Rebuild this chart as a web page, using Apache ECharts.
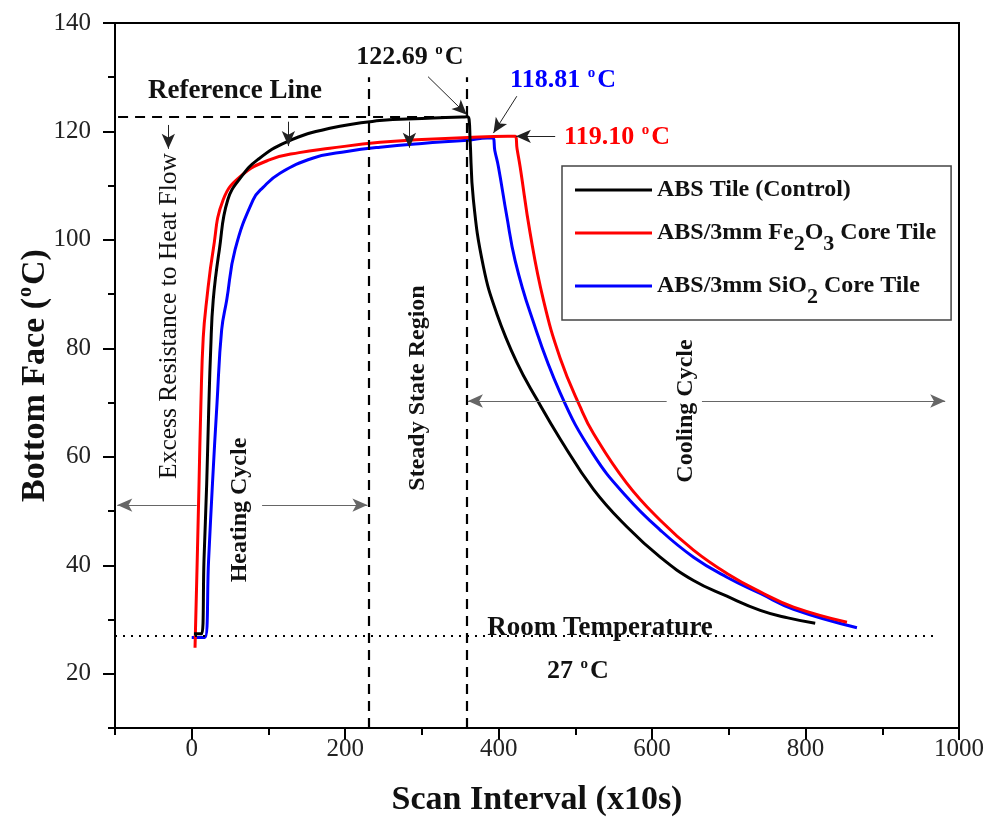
<!DOCTYPE html>
<html>
<head>
<meta charset="utf-8">
<script src="https://cdn.jsdelivr.net/npm/echarts@6/dist/echarts.min.js"></script>
<style>
  html, body { margin: 0; padding: 0; background: #fff; }
  #main { width: 989px; height: 822px; }
</style>
</head>
<body>
<div id="main"></div>
<script>
// curve data: [scan interval (x10s), temperature (C)]
var absTile = [
  [3,27.4],[13,27.4],[16,41],[19.5,55],[22,68],[24.7,79.7],[28,88.9],[36,98.2],[47,107.4],
  [65,111.7],[86,114.8],[124,118.1],[180,120.6],[245,122.0],[300,122.4],[352,122.65],[359,122.69],
  [361.5,122.2],[362.8,118.5],[367.1,107.4],[380.1,95.1],[397.6,86.4],[423.7,77.4],
  [449.8,70.6],[480.2,63.3],[523.6,54.0],[567.1,47.1],[610.6,41.5],[654,37.2],[697.5,34.3],
  [741,31.7],[777,30.3],[812.6,29.3]
];
var fe2o3Tile = [
  [4.3,24.8],[7,40],[9.5,55],[12,70],[15,82],[19.5,88.9],[28,98.2],[41,107.4],[65,111.9],
  [102,114.8],[140,116.1],[180,116.9],[245.5,118],[300,118.5],[360,118.9],[412,119.1],[421.5,119.1],
  [424,116.8],[428,113.5],[441,101.3],[458.4,88.9],[480.2,78.2],[506.3,69.2],[523.6,64.3],
  [567.1,55.1],[610.6,48.3],[654,42.8],[697.5,38.5],[741,35.1],[784.4,32.3],[854,29.5]
];
var sio2Tile = [
  [0,26.7],[17,26.7],[22,41],[27,55],[33,70],[39,83.4],[45.6,88.9],[56.5,98.2],[80,107.4],
  [93,109.7],[115,112.3],[158.5,115.1],[202,116.3],[245.5,117.1],[300,117.8],[360,118.4],
  [385,118.8],[392.4,118.81],
  [395,116.5],[399.7,113.5],[410.7,104.3],[421.5,96.2],[441.1,86.6],[480.2,71.8],[523.6,60.4],
  [567.1,52.6],[610.6,46.5],[654,41.5],[697.5,37.8],[741,34.8],[784.4,31.9],[867,28.5]
];
var seriesNames = ['ABS Tile (Control)', 'ABS/3mm Fe2O3 Core Tile', 'ABS/3mm SiO2 Core Tile'];
var seriesColors = ['#000000', '#ff0000', '#0000ff'];
var xTickLabels = [0, 200, 400, 600, 800, 1000];
var yTickLabels = [20, 40, 60, 80, 100, 120, 140];

// annotation values
var refTemp = 122.69;
var roomTemp = 27;
var steadyStart = 231;
var steadyEnd = 359;

var FONT = 'Liberation Serif';
var myChart = echarts.init(document.getElementById('main'));

function arrow(x1, y1, x2, y2, color, width) {
  return [
    { coord: [x1, y1], symbol: 'none', lineStyle: { color: color, width: width, type: 'solid' } },
    { coord: [x2, y2], symbol: 'arrow' }
  ];
}
function plain(x1, y1, x2, y2, type, width) {
  return [
    { coord: [x1, y1], symbol: 'none', lineStyle: { color: '#000', width: width, type: type } },
    { coord: [x2, y2], symbol: 'none' }
  ];
}

var marks = [
  plain(-96, refTemp, steadyEnd, refTemp, [10, 7], 2.2),
  plain(steadyStart, 10, steadyStart, 130, [10, 7], 2.2),
  plain(steadyEnd, 10, steadyEnd, 130, [10, 7], 2.2),
  plain(-100, roomTemp, 967, roomTemp, [2, 6], 2),
  arrow(308, 130.1, 358.5, 123.1, '#222', 1),
  arrow(-30.5, 121.2, -30.5, 116.8, '#222', 1),
  arrow(126, 121.8, 126, 117.3, '#222', 1),
  arrow(283.7, 121.8, 283.7, 117.0, '#222', 1),
  arrow(423.7, 126.5, 393.2, 119.7, '#222', 1),
  arrow(473.7, 119.1, 422.5, 119.1, '#222', 1),
  arrow(6.5, 51.1, -97, 51.1, '#666', 1),
  arrow(91.7, 51.1, 229, 51.1, '#666', 1),
  arrow(619, 70.3, 360, 70.3, '#666', 1),
  arrow(665, 70.3, 982, 70.3, '#666', 1)
];

function legendText(name) {
  if (name === seriesNames[1]) return 'ABS/3mm Fe{sub|2}O{sub|3} Core Tile';
  if (name === seriesNames[2]) return 'ABS/3mm SiO{sub|2} Core Tile';
  return name;
}

function label(text, x, y, size, color, rot, weight) {
  return {
    type: 'text', x: x, y: y, rotation: rot || 0, silent: true,
    style: {
      text: text, fill: color, fontFamily: FONT, fontSize: size,
      fontWeight: weight || 'bold', align: 'center', verticalAlign: 'middle',
      rich: {
        sup: { fontSize: Math.round(size * 0.58), fontWeight: 'bold', fontFamily: FONT,
               fill: color, padding: [0, 2, Math.round(size * 0.55), 1] }
      }
    }
  };
}

var option = {
  animation: false,
  grid: { left: 115, right: 30, top: 23, bottom: 94, show: true, borderColor: '#000', borderWidth: 2 },
  legend: {
    data: seriesNames,
    orient: 'vertical',
    left: 562, top: 166,
    padding: [12, 15, 12, 13],
    itemGap: 19,
    itemWidth: 77, itemHeight: 3,
    icon: 'rect',
    borderColor: '#444', borderWidth: 1.5,
    formatter: legendText,
    textStyle: {
      fontFamily: FONT, fontSize: 24, fontWeight: 'bold', color: '#111',
      rich: { sub: { fontSize: 22, fontWeight: 'bold', fontFamily: FONT, color: '#111', padding: [22, 0, 0, 0] } }
    }
  },
  xAxis: [{
    type: 'value', min: -100, max: 1000,
    name: 'Scan Interval (x10s)', nameLocation: 'middle', nameGap: 55, nameMoveOverlap: false,
    nameTextStyle: { fontFamily: FONT, fontSize: 34, fontWeight: 'bold', color: '#111' },
    axisLine: { onZero: false, lineStyle: { color: '#000', width: 2 } },
    axisTick: { length: 12, customValues: xTickLabels, lineStyle: { color: '#000', width: 2 } },
    axisLabel: { customValues: xTickLabels, margin: 9, fontFamily: FONT, fontSize: 25, color: '#222',
                 formatter: function (v) { return String(v); } },
    splitLine: { show: false }
  }, {
    type: 'value', min: -100, max: 1000, interval: 100, position: 'bottom',
    axisLine: { show: false, onZero: false },
    axisTick: { length: 7, lineStyle: { color: '#000', width: 2 } },
    axisLabel: { show: false },
    splitLine: { show: false }
  }],
  yAxis: [{
    type: 'value', min: 10, max: 140,
    name: 'Bottom Face ({sup|o}C)', nameLocation: 'middle', nameGap: 60, nameRotate: 90,
    nameMoveOverlap: false,
    nameTextStyle: {
      fontFamily: FONT, fontSize: 34, fontWeight: 'bold', color: '#111',
      rich: { sup: { fontFamily: FONT, fontSize: 20, fontWeight: 'bold', color: '#111', padding: [0, 2, 19, 1] } }
    },
    axisLine: { onZero: false, lineStyle: { color: '#000', width: 2 } },
    axisTick: { length: 12, customValues: yTickLabels, lineStyle: { color: '#000', width: 2 } },
    axisLabel: { customValues: yTickLabels, margin: 24, fontFamily: FONT, fontSize: 25, color: '#222' },
    splitLine: { show: false }
  }, {
    type: 'value', min: 10, max: 140, interval: 10, position: 'left',
    axisLine: { show: false, onZero: false },
    axisTick: { length: 7, lineStyle: { color: '#000', width: 2 } },
    axisLabel: { show: false },
    splitLine: { show: false }
  }],
  series: [
    { name: seriesNames[0], type: 'line', data: absTile },
    { name: seriesNames[1], type: 'line', data: fe2o3Tile },
    { name: seriesNames[2], type: 'line', data: sio2Tile },
    {
      name: 'annotations', type: 'line', data: [],
      markLine: { silent: true, symbolSize: [10, 15], label: { show: false }, data: marks }
    }
  ].map(function (s, i) {
    if (i < 3) {
      s.showSymbol = false;
      s.smooth = 0.45;
      s.z = 3 - i;
      s.lineStyle = { color: seriesColors[i], width: 3 };
      s.itemStyle = { color: seriesColors[i] };
    }
    return s;
  }),
  graphic: [
    label('122.69 {sup|o}C', 410, 57, 26, '#111'),
    label('Reference Line', 235, 91, 27, '#111'),
    label('118.81 {sup|o}C', 563, 80, 26, '#0000ff'),
    label('119.10 {sup|o}C', 617, 137, 26, '#ff0000'),
    label('Room Temperature', 600, 628, 27, '#111'),
    label('27 {sup|o}C', 578, 671, 26, '#111'),
    label('Excess Resistance to Heat Flow', 169, 316, 25.5, '#111', Math.PI / 2, 'normal'),
    label('Heating Cycle', 240, 510, 24, '#111', Math.PI / 2),
    label('Steady State Region', 418, 388, 24, '#111', Math.PI / 2),
    label('Cooling Cycle', 686, 411, 24, '#111', Math.PI / 2)
  ]
};

myChart.setOption(option);
</script>
</body>
</html>
